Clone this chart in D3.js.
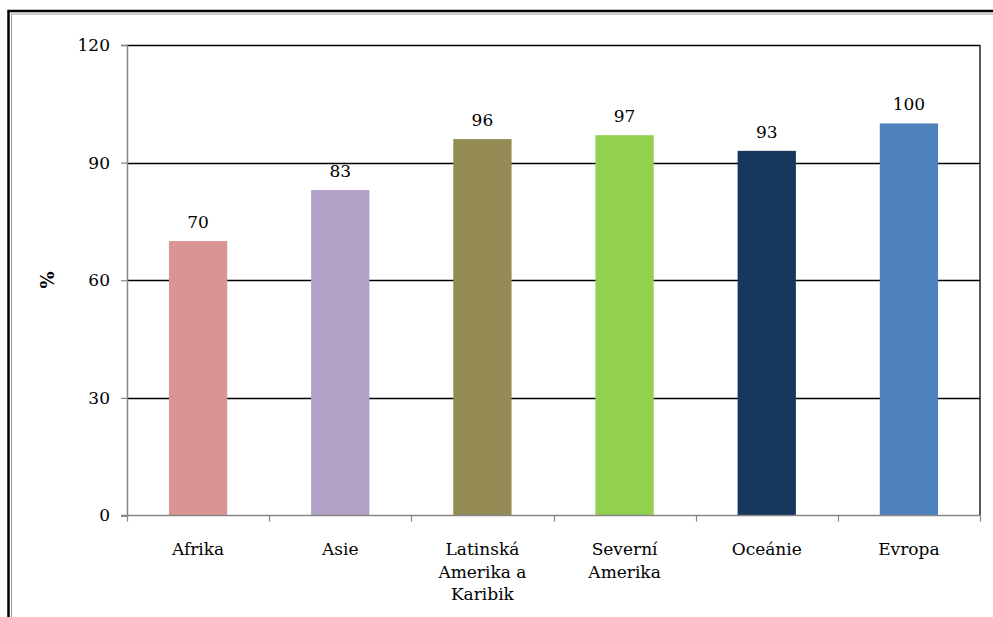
<!DOCTYPE html>
<html>
<head>
<meta charset="utf-8">
<script src="https://cdn.jsdelivr.net/npm/d3@7"></script>
<style>
  body { margin: 0; background: #fff; }
</style>
</head>
<body>
<div id="chart"></div>
<script>
var categories = [["Afrika"], ["Asie"], ["Latinská", "Amerika a", "Karibik"], ["Severní", "Amerika"], ["Oceánie"], ["Evropa"]];
var values = [70, 83, 96, 97, 93, 100];
var colors = ["#D99594", "#B2A1C7", "#948A54", "#92D050", "#17375E", "#4F81BD"];
var yTicks = [0, 30, 60, 90, 120];

var FONT = "'DejaVu Serif', serif";

function init() {
    var w = 993, h = 617;
    var left = 127, right = 980, top = 45, bottom = 515.5;

    var svg = d3.select("#chart").append("svg")
        .attr("width", w)
        .attr("height", h);

    // outer frame (double line)
    svg.append("rect")
        .attr("x", 8.5).attr("y", 11).attr("width", 1000).attr("height", 700)
        .attr("fill", "none").attr("stroke", "#000").attr("stroke-width", 2.5);
    svg.append("rect")
        .attr("x", 11.5).attr("y", 14).attr("width", 1000).attr("height", 700)
        .attr("fill", "none").attr("stroke", "#999").attr("stroke-width", 1);

    var x = d3.scaleBand()
        .domain(d3.range(categories.length))
        .range([left, right])
        .paddingInner(0.59)
        .paddingOuter(0.295);

    var xBounds = d3.scaleLinear().domain([0, categories.length]).range([left, right]);

    var y = d3.scaleLinear().domain([0, 120]).range([bottom, top]);

    // gridlines
    svg.append("g").selectAll("line")
        .data(yTicks.filter(function(d) { return d > 0; }))
        .enter().append("line")
        .attr("x1", left).attr("x2", right)
        .attr("y1", function(d) { return Math.round(y(d)) + 0.5; })
        .attr("y2", function(d) { return Math.round(y(d)) + 0.5; })
        .attr("stroke", "#000").attr("stroke-width", 1.3);

    // right border
    svg.append("line")
        .attr("x1", right).attr("x2", right).attr("y1", top).attr("y2", bottom)
        .attr("stroke", "#222").attr("stroke-width", 1.5);

    // bars
    svg.selectAll(".bar")
        .data(values)
        .enter().append("rect")
        .attr("x", function(d, i) { return x(i); })
        .attr("y", function(d) { return y(d); })
        .attr("width", x.bandwidth())
        .attr("height", function(d) { return bottom - y(d); })
        .attr("fill", function(d, i) { return colors[i]; });

    // value labels
    svg.selectAll(".val")
        .data(values)
        .enter().append("text")
        .attr("x", function(d, i) { return x(i) + x.bandwidth() / 2; })
        .attr("y", function(d) { return y(d) - 13; })
        .attr("text-anchor", "middle")
        .style("font-family", FONT)
        .style("font-size", "17px")
        .style("fill", "#000")
        .text(function(d) { return d; });

    // y axis
    var yAxis = svg.append("g")
        .attr("transform", "translate(" + left + ",0)")
        .call(d3.axisLeft(y).tickValues(yTicks).tickSize(6).tickPadding(11));
    yAxis.select(".domain").attr("stroke", "#868686").attr("stroke-width", 1.5);
    yAxis.selectAll(".tick line").attr("stroke", "#868686").attr("stroke-width", 1.2);
    yAxis.selectAll(".tick text")
        .style("font-family", FONT)
        .style("font-size", "17px")
        .style("fill", "#000");

    // x axis line and boundary ticks
    svg.append("line")
        .attr("x1", left - 6).attr("x2", right).attr("y1", bottom).attr("y2", bottom)
        .attr("stroke", "#868686").attr("stroke-width", 1.5);
    svg.append("g").selectAll("line")
        .data(d3.range(categories.length + 1))
        .enter().append("line")
        .attr("x1", function(d) { return Math.round(xBounds(d)) + 0.5; })
        .attr("x2", function(d) { return Math.round(xBounds(d)) + 0.5; })
        .attr("y1", bottom).attr("y2", bottom + 6)
        .attr("stroke", "#868686").attr("stroke-width", 1.2);

    // category labels
    var cat = svg.selectAll(".cat")
        .data(categories)
        .enter().append("text")
        .attr("text-anchor", "middle")
        .style("font-family", FONT)
        .style("font-size", "17px")
        .style("fill", "#000")
        .attr("transform", function(d, i) { return "translate(" + (x(i) + x.bandwidth() / 2) + ",555)"; });
    cat.selectAll("tspan")
        .data(function(d) { return d; })
        .enter().append("tspan")
        .attr("x", 0)
        .attr("y", function(d, i) { return i * 22.5; })
        .text(function(d) { return d; });

    // y title
    svg.append("text")
        .attr("transform", "translate(54,280) rotate(-90)")
        .attr("text-anchor", "middle")
        .style("font-family", FONT)
        .style("font-size", "18px")
        .style("font-weight", "bold")
        .style("fill", "#000")
        .text("%");
}

window.onload = init;
</script>
</body>
</html>
